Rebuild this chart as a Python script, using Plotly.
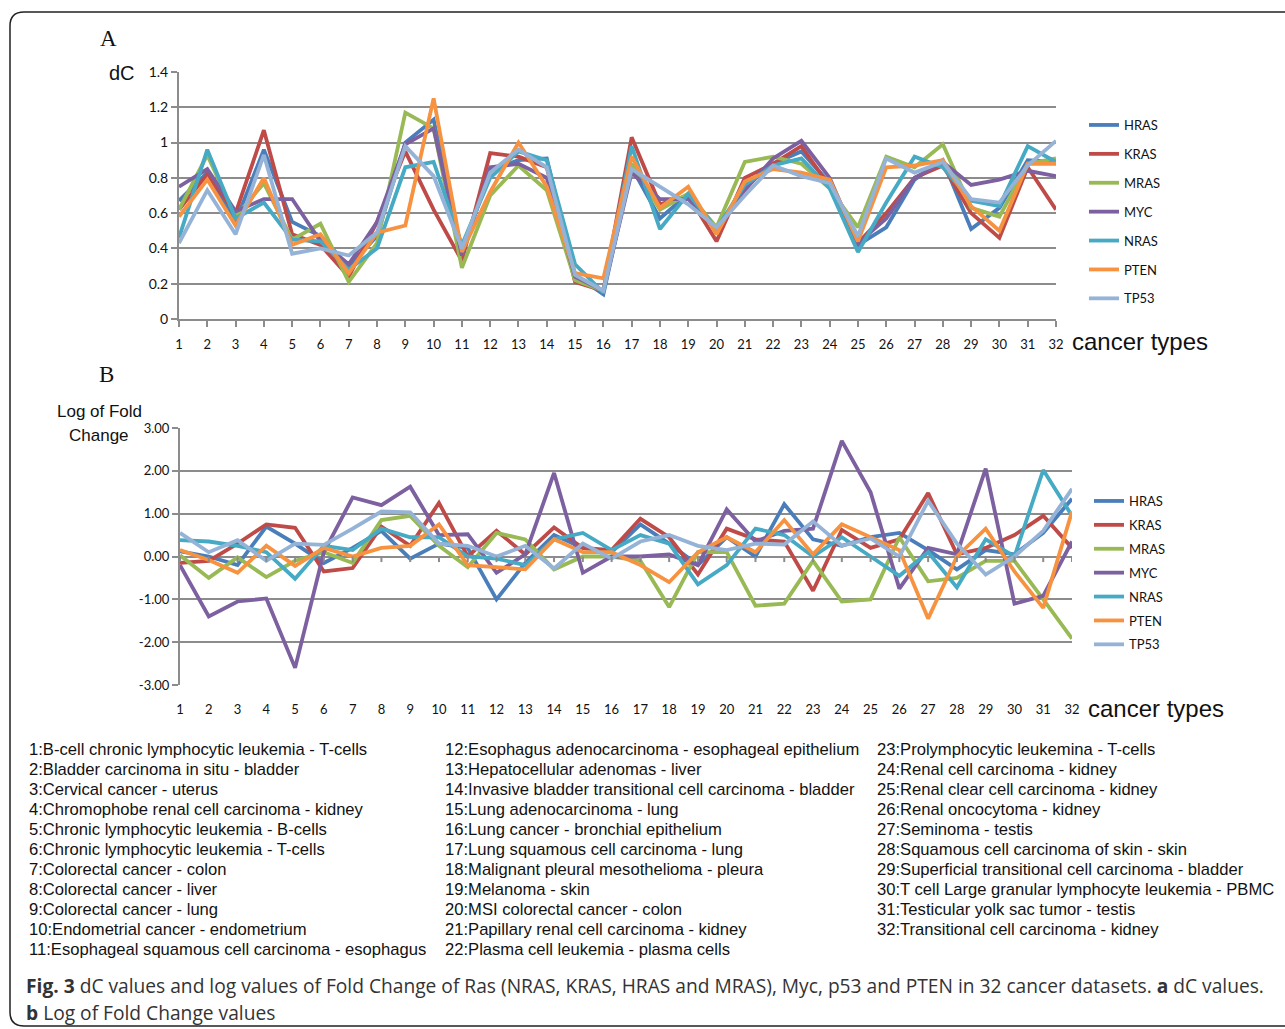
import plotly.graph_objects as go

W, H = 1285, 1029

categories = list(range(1, 33))
genes = ["HRAS", "KRAS", "MRAS", "MYC", "NRAS", "PTEN", "TP53"]
colors = ["#4A7EBB", "#BE4B48", "#98B954", "#7D60A0", "#46AAC5", "#F69240", "#95B3D7"]

# Panel A: dC values
dc_HRAS = [0.67,0.83,0.55,0.96,0.55,0.47,0.30,0.47,1.00,1.13,0.38,0.84,0.90,0.91,0.25,0.14,0.86,0.57,0.71,0.50,0.75,0.88,0.95,0.77,0.42,0.52,0.79,0.90,0.51,0.63,0.90,0.89]
dc_KRAS = [0.62,0.82,0.60,1.07,0.48,0.42,0.24,0.55,0.95,0.62,0.33,0.94,0.92,0.86,0.21,0.16,1.03,0.65,0.70,0.44,0.80,0.88,0.98,0.75,0.43,0.60,0.80,0.87,0.60,0.46,0.86,0.62]
dc_MRAS = [0.62,0.93,0.58,0.77,0.45,0.54,0.21,0.43,1.17,1.08,0.29,0.70,0.87,0.73,0.22,0.16,0.88,0.62,0.71,0.52,0.89,0.92,0.88,0.74,0.52,0.92,0.86,0.99,0.63,0.58,0.88,0.91]
dc_MYC  = [0.75,0.85,0.61,0.68,0.68,0.44,0.31,0.55,0.99,1.08,0.36,0.86,0.88,0.80,0.24,0.16,0.83,0.68,0.68,0.51,0.73,0.91,1.01,0.80,0.43,0.57,0.80,0.89,0.76,0.79,0.84,0.81]
dc_NRAS = [0.46,0.96,0.57,0.66,0.45,0.44,0.28,0.40,0.86,0.89,0.42,0.80,0.95,0.90,0.31,0.15,0.98,0.51,0.71,0.51,0.76,0.87,0.91,0.74,0.38,0.66,0.92,0.86,0.67,0.64,0.98,0.89]
dc_PTEN = [0.58,0.79,0.53,0.80,0.42,0.48,0.26,0.49,0.53,1.25,0.38,0.72,1.00,0.75,0.26,0.23,0.92,0.63,0.75,0.48,0.78,0.85,0.83,0.79,0.44,0.86,0.87,0.90,0.64,0.50,0.88,0.88]
dc_TP53 = [0.43,0.73,0.48,0.93,0.37,0.40,0.36,0.49,0.98,0.81,0.40,0.83,0.96,0.86,0.25,0.16,0.85,0.75,0.65,0.52,0.70,0.87,0.81,0.77,0.47,0.91,0.83,0.89,0.68,0.66,0.87,1.01]

# Panel B: log of fold change
fc_HRAS = [0.12,0.00,-0.20,0.70,0.30,-0.15,0.20,0.60,-0.05,0.30,0.20,-1.00,-0.15,0.50,0.20,0.10,0.75,0.30,-0.20,0.45,0.00,1.22,0.40,0.25,0.45,0.55,0.15,-0.30,0.15,0.05,0.55,1.35]
fc_KRAS = [-0.15,-0.10,0.30,0.75,0.67,-0.35,-0.27,0.70,0.25,1.25,0.00,0.60,0.05,0.68,0.20,0.15,0.88,0.45,-0.42,0.65,0.40,0.35,-0.80,0.62,0.20,0.40,1.48,0.05,0.20,0.50,0.95,0.20]
fc_MRAS = [0.03,-0.50,-0.02,-0.48,-0.10,0.10,-0.15,0.85,0.95,0.25,-0.25,0.55,0.40,-0.30,0.00,0.00,-0.10,-1.18,0.10,0.10,-1.15,-1.10,-0.10,-1.05,-1.00,0.45,-0.58,-0.50,-0.10,-0.10,-1.00,-1.92]
fc_MYC  = [-0.20,-1.40,-1.05,-0.98,-2.60,0.10,1.38,1.20,1.63,0.50,0.52,-0.38,0.05,1.95,-0.38,0.00,0.00,0.05,-0.20,1.10,0.35,0.60,0.65,2.70,1.50,-0.75,0.20,0.05,2.05,-1.10,-0.92,0.35]
fc_NRAS = [0.38,0.35,0.25,0.10,-0.52,0.25,0.15,0.65,0.45,0.45,0.00,-0.05,-0.20,0.40,0.55,0.15,0.50,0.30,-0.65,-0.20,0.65,0.50,0.00,0.45,0.00,-0.45,0.10,-0.72,0.40,0.00,2.02,0.95]
fc_PTEN = [0.15,-0.08,-0.38,0.25,-0.22,0.20,0.00,0.20,0.25,0.75,-0.20,-0.25,-0.30,0.40,0.10,0.10,-0.20,-0.60,0.10,0.45,0.10,0.85,0.05,0.75,0.45,0.15,-1.45,0.00,0.65,-0.35,-1.20,1.05]
fc_TP53 = [0.55,0.10,0.38,-0.10,0.30,0.27,0.65,1.05,1.03,0.30,0.25,0.00,0.25,-0.28,0.30,-0.05,0.35,0.50,0.25,0.15,0.30,0.28,0.82,0.25,0.42,0.00,1.30,0.30,-0.42,0.00,0.60,1.58]

dc_series = [dc_HRAS, dc_KRAS, dc_MRAS, dc_MYC, dc_NRAS, dc_PTEN, dc_TP53]
fc_series = [fc_HRAS, fc_KRAS, fc_MRAS, fc_MYC, fc_NRAS, fc_PTEN, fc_TP53]

yA_ticks = [0, 0.2, 0.4, 0.6, 0.8, 1.0, 1.2, 1.4]
yA_labels = ["0", "0.2", "0.4", "0.6", "0.8", "1", "1.2", "1.4"]
yB_ticks = [-3, -2, -1, 0, 1, 2, 3]
yB_labels = ["-3.00", "-2.00", "-1.00", "0.00", "1.00", "2.00", "3.00"]

cancer_names = [
    "1:B-cell chronic lymphocytic leukemia - T-cells",
    "2:Bladder carcinoma in situ - bladder",
    "3:Cervical cancer - uterus",
    "4:Chromophobe renal cell carcinoma - kidney",
    "5:Chronic lymphocytic leukemia - B-cells",
    "6:Chronic lymphocytic leukemia - T-cells",
    "7:Colorectal cancer - colon",
    "8:Colorectal cancer - liver",
    "9:Colorectal cancer - lung",
    "10:Endometrial cancer - endometrium",
    "11:Esophageal squamous cell carcinoma - esophagus",
    "12:Esophagus adenocarcinoma - esophageal epithelium",
    "13:Hepatocellular adenomas - liver",
    "14:Invasive bladder transitional cell carcinoma - bladder",
    "15:Lung adenocarcinoma - lung",
    "16:Lung cancer - bronchial epithelium",
    "17:Lung squamous cell carcinoma - lung",
    "18:Malignant pleural mesothelioma - pleura",
    "19:Melanoma - skin",
    "20:MSI colorectal cancer - colon",
    "21:Papillary renal cell carcinoma - kidney",
    "22:Plasma cell leukemia - plasma cells",
    "23:Prolymphocytic leukemina - T-cells",
    "24:Renal cell carcinoma - kidney",
    "25:Renal clear cell carcinoma - kidney",
    "26:Renal oncocytoma - kidney",
    "27:Seminoma - testis",
    "28:Squamous cell carcinoma of skin - skin",
    "29:Superficial transitional cell carcinoma - bladder",
    "30:T cell Large granular lymphocyte leukemia - PBMC",
    "31:Testicular yolk sac tumor - testis",
    "32:Transitional cell carcinoma - kidney",
]

GRID = "#8C8C8C"
TICKFONT = dict(family="Lato, Carlito, sans-serif", size=14, color="#111")

def px_x(x):
    return x / W

def px_y(y):
    return 1 - y / H

fig = go.Figure()

for g, c, ys in zip(genes, colors, dc_series):
    fig.add_trace(go.Scatter(x=categories, y=ys, mode="lines", name=g,
                             line=dict(color=c, width=3.8), xaxis="x", yaxis="y",
                             legend="legend", legendgroup="A" + g))
for g, c, ys in zip(genes, colors, fc_series):
    fig.add_trace(go.Scatter(x=categories, y=ys, mode="lines", name=g,
                             line=dict(color=c, width=3.8), xaxis="x2", yaxis="y2",
                             legend="legend2", legendgroup="B" + g))

fig.update_layout(
    width=W, height=H,
    margin=dict(l=0, r=0, t=0, b=0, pad=0, autoexpand=False),
    paper_bgcolor="white", plot_bgcolor="white",
    showlegend=True,
    xaxis=dict(domain=[px_x(179), px_x(1056)], range=[1, 32], tickmode="array",
               tickvals=categories, ticktext=[str(c) for c in categories],
               showgrid=False, zeroline=False, showline=True, linecolor=GRID, linewidth=2,
               ticks="outside", ticklen=6, tickwidth=2, tickcolor=GRID, automargin=False,
               ticklabelstandoff=6, tickfont=dict(family="Lato, sans-serif", size=13, color="#111")),
    yaxis=dict(domain=[px_y(319), px_y(72)], range=[0, 1.4], tickmode="array",
               tickvals=yA_ticks, ticktext=yA_labels, showgrid=True, gridcolor=GRID, gridwidth=2,
               zeroline=False, showline=True, linecolor=GRID, linewidth=2, automargin=False,
               ticks="outside", ticklen=6, tickwidth=2, tickcolor=GRID, tickfont=TICKFONT),
    xaxis2=dict(domain=[px_x(180), px_x(1072)], range=[1, 32], tickmode="array",
                tickvals=categories, ticktext=[str(c) for c in categories],
                showgrid=False, zeroline=False, showline=False, automargin=False,
                ticks="outside", ticklen=12, tickcolor="rgba(0,0,0,0)",
                tickfont=dict(family="Lato, sans-serif", size=13, color="#111"), anchor="y2"),
    yaxis2=dict(domain=[px_y(685), px_y(428)], range=[-3, 3], tickmode="array",
                tickvals=yB_ticks, ticktext=yB_labels, showgrid=True, gridcolor=GRID, gridwidth=2,
                zeroline=True, zerolinecolor=GRID, zerolinewidth=2, automargin=False,
                showline=True, linecolor=GRID, linewidth=2,
                ticks="outside", ticklen=6, tickwidth=2, tickcolor=GRID,
                tickfont=dict(family="Lato, sans-serif", size=13, color="#111"), anchor="x2"),
    legend=dict(x=px_x(1084), y=px_y(110), xanchor="left", yanchor="top",
                font=dict(family="Lato, sans-serif", size=13, color="#111"),
                tracegroupgap=9, traceorder="grouped", itemwidth=30, bgcolor="rgba(0,0,0,0)"),
    legend2=dict(x=px_x(1089), y=px_y(486), xanchor="left", yanchor="top",
                 font=dict(family="Lato, sans-serif", size=13, color="#111"),
                 tracegroupgap=4, traceorder="grouped", itemwidth=30, bgcolor="rgba(0,0,0,0)"),
)

shapes = []
# tick marks on the zero line of panel B
for c in categories:
    shapes.append(dict(type="line", xref="x2", yref="y2", x0=c, x1=c, y0=0, y1=-0.13,
                       line=dict(color=GRID, width=2)))
# rounded border box
r = 14
x0, y0, x1, y1 = 10, 12, 1300, 1026
path = (f"M {x0+r},{y0} L {x1-r},{y0} Q {x1},{y0} {x1},{y0+r} L {x1},{y1-r} Q {x1},{y1} {x1-r},{y1} "
        f"L {x0+r},{y1} Q {x0},{y1} {x0},{y1-r} L {x0},{y0+r} Q {x0},{y0} {x0+r},{y0} Z")
def conv_path(p):
    out = []
    for tok in p.split(" "):
        if "," in tok:
            a, b = tok.split(",")
            out.append(f"{px_x(float(a)):.5f},{px_y(float(b)):.5f}")
        else:
            out.append(tok)
    return " ".join(out)
shapes.append(dict(type="path", xref="paper", yref="paper", path=conv_path(path),
                   line=dict(color="#222", width=1.5), layer="below"))
fig.update_layout(shapes=shapes)

ann = []
def add_text(x, y, text, size, family="Liberation Sans, Arial, sans-serif", xanchor="center",
             color="#111"):
    ann.append(dict(x=px_x(x), y=px_y(y), xref="paper", yref="paper", text=text,
                    showarrow=False, xanchor=xanchor, yanchor="middle", borderpad=0,
                    font=dict(family=family, size=size, color=color)))

add_text(108, 38, "A", 23, family="Liberation Serif, Times New Roman, serif")
add_text(106, 374, "B", 23, family="Liberation Serif, Times New Roman, serif")
add_text(122, 73, "dC", 20)
add_text(1140, 341, "cancer types", 24)
add_text(1156, 708, "cancer types", 24)
add_text(99, 412, "Log of Fold", 17)
add_text(99, 435, "Change", 17)

cols_x = [28, 444, 876]
col_split = [0, 11, 22, 32]
for ci in range(3):
    for li, name in enumerate(cancer_names[col_split[ci]:col_split[ci + 1]]):
        add_text(cols_x[ci], 749 + 20 * li, name, 16.6, xanchor="left")

cap_font = "Open Sans, Noto Sans, sans-serif"
add_text(25, 985, "<b>Fig. 3</b> dC values and log values of Fold Change of Ras (NRAS, KRAS, HRAS and MRAS), "
         "Myc, p53 and PTEN in 32 cancer datasets. <b>a</b> dC values.", 19.2, family=cap_font,
         xanchor="left", color="#333")
add_text(25, 1012, "<b>b</b> Log of Fold Change values", 19.2, family=cap_font, xanchor="left",
         color="#333")

fig.update_layout(annotations=ann)

fig.write_html("out.html", config={"displayModeBar": False, "staticPlot": True},
               post_script="document.body.style.margin='0px';document.body.style.overflow='hidden';")
